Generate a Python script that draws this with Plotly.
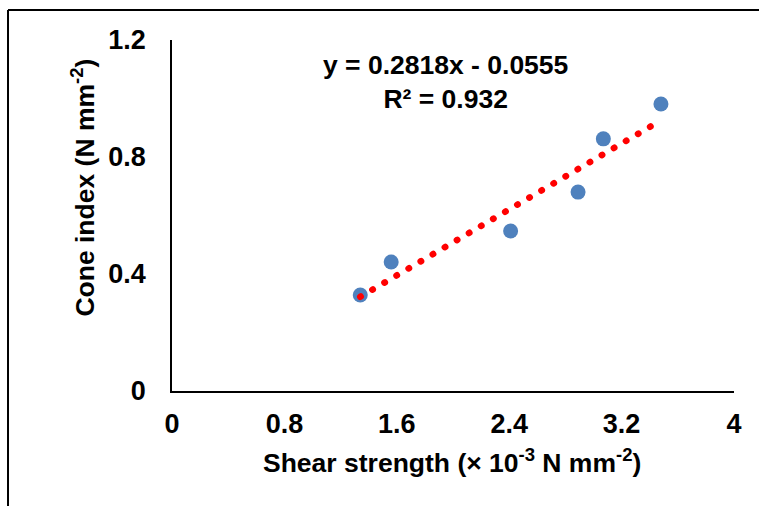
import plotly.graph_objects as go

# Data
shear_strength = [1.34, 1.56, 2.41, 2.89, 3.07, 3.48]   # x 10^-3 N mm^-2
cone_index = [0.328, 0.441, 0.547, 0.680, 0.862, 0.981]  # N mm^-2

# Trendline parameters shown on the chart
slope = 0.2818
intercept = -0.0555
r_squared = 0.932

x_ticks = [0, 0.8, 1.6, 2.4, 3.2, 4]
x_tick_labels = ["0", "0.8", "1.6", "2.4", "3.2", "4"]
y_ticks = [0, 0.4, 0.8, 1.2]
y_tick_labels = ["0", "0.4", "0.8", "1.2"]

FONT = "Arial, 'Liberation Sans', sans-serif"

trend_x = [min(shear_strength), max(shear_strength)]
trend_y = [slope * v + intercept for v in trend_x]

fig = go.Figure()
fig.add_trace(go.Scatter(
    x=shear_strength, y=cone_index, mode="markers",
    marker=dict(color="#4F81BD", size=15, line=dict(width=0)),
    showlegend=False, hoverinfo="x+y"))
fig.add_trace(go.Scatter(
    x=trend_x, y=trend_y, mode="lines",
    line=dict(color="#FF0000", width=6.5, dash="0.5px,13.5px"),
    showlegend=False, hoverinfo="skip"))

tickfont = dict(family=FONT, size=27, color="black", weight="bold")

fig.update_layout(
    width=759, height=506,
    margin=dict(l=172, r=25, t=40, b=115),
    paper_bgcolor="white", plot_bgcolor="white",
    font=dict(family=FONT, size=26, color="black"),
    xaxis=dict(range=[0, 4], tickvals=x_ticks, ticktext=x_tick_labels,
               showgrid=False, zeroline=False, showline=True,
               linecolor="black", linewidth=1.5, ticks="", ticklabelstandoff=8,
               tickfont=tickfont),
    yaxis=dict(range=[0, 1.2], tickvals=y_ticks, ticktext=y_tick_labels,
               showgrid=False, zeroline=False, showline=True,
               linecolor="black", linewidth=1.5, ticks="", ticklabelstandoff=19,
               tickfont=tickfont),
    annotations=[
        dict(text=f"<b>y = {slope}x - {abs(intercept)}<br>R² = {r_squared}</b>",
             xref="paper", yref="paper", x=0.4858, y=0.879,
             xanchor="center", yanchor="middle", showarrow=False,
             font=dict(family=FONT, size=26.5, color="black")),
        dict(text="<b>Shear strength (× 10<sup>-3</sup> N mm<sup>-2</sup>)</b>",
             xref="paper", yref="paper", x=0.498, y=-0.2,
             xanchor="center", yanchor="middle", showarrow=False,
             font=dict(family=FONT, size=26.5, color="black")),
        dict(text="<b>Cone index (N mm<sup>-2</sup>)</b>",
             xref="paper", yref="paper", x=-0.158, y=0.58, textangle=-90,
             xanchor="center", yanchor="middle", showarrow=False,
             font=dict(family=FONT, size=26.5, color="black")),
    ],
    shapes=[
        dict(type="line", xref="paper", yref="paper", x0=-0.2918, x1=1.06,
             y0=1.0855, y1=1.0855, line=dict(color="black", width=2)),
        dict(type="line", xref="paper", yref="paper", x0=-0.2918, x1=-0.2918,
             y0=1.0855, y1=-0.35, line=dict(color="black", width=2)),
    ],
)

post = """
document.body.style.margin = '0';
document.body.style.padding = '0';
document.querySelectorAll('.scatterlayer .trace path.js-line').forEach(function(p){
  p.style.strokeLinecap = 'round';
});
"""
fig.write_html("out.html", post_script=post, config={"displayModeBar": False})
